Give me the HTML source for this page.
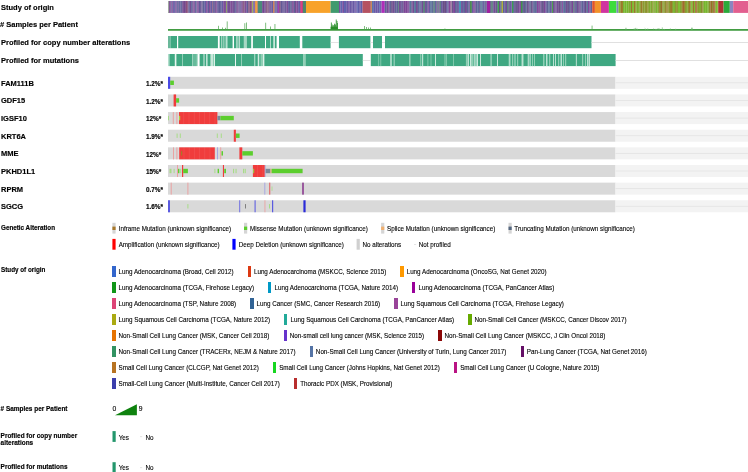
<!DOCTYPE html>
<html><head><meta charset="utf-8"><style>
html,body{margin:0;padding:0;background:#fff;width:748px;height:472px;overflow:hidden;position:relative;}
body{font-family:"Liberation Sans",sans-serif;color:#000;}
svg{position:absolute;left:0;top:0;}
.t{position:absolute;white-space:nowrap;}
.lrow{position:absolute;left:112.4px;transform:scaleY(1.0);height:10.8px;display:flex;white-space:nowrap;font-size:6.28px;line-height:10.8px;}
.li{display:inline-flex;align-items:center;margin-right:14.2px;height:10.8px;}
.li i{display:inline-block;width:3.2px;height:10.6px;margin-right:3.0px;position:relative;top:-0.5px;}
.tx{display:inline-block;font-weight:400;line-height:10.8px;transform:scaleY(1.15);transform-origin:50% 73%;position:relative;top:0.5px;-webkit-text-stroke:0.1px #000;}
.li{position:relative;top:0;}
</style></head><body><div id="wrap" style="position:absolute;left:0;top:0;width:748px;height:472px;filter:blur(0.3px)">
<svg width="748" height="472" viewBox="0 0 748 472">
<rect x="168.00" y="1.00" width="1.19" height="11.90" fill="#9e4c6e"/><rect x="169.19" y="1.00" width="1.27" height="11.90" fill="#7a3f8c"/><rect x="170.46" y="1.00" width="0.89" height="11.90" fill="#9a48a0"/><rect x="171.35" y="1.00" width="0.91" height="11.90" fill="#6878a8"/><rect x="172.26" y="1.00" width="0.87" height="11.90" fill="#9a48a0"/><rect x="173.13" y="1.00" width="1.06" height="11.90" fill="#6462b0"/><rect x="174.19" y="1.00" width="1.32" height="11.90" fill="#6462b0"/><rect x="175.51" y="1.00" width="1.09" height="11.90" fill="#9a48a0"/><rect x="176.60" y="1.00" width="1.31" height="11.90" fill="#6878a8"/><rect x="177.91" y="1.00" width="0.95" height="11.90" fill="#8a72a8"/><rect x="178.86" y="1.00" width="1.56" height="11.90" fill="#6878a8"/><rect x="180.41" y="1.00" width="1.94" height="11.90" fill="#6878a8"/><rect x="182.35" y="1.00" width="1.50" height="11.90" fill="#7a3f8c"/><rect x="183.85" y="1.00" width="1.97" height="11.90" fill="#7a3f8c"/><rect x="185.82" y="1.00" width="1.47" height="11.90" fill="#9e4c6e"/><rect x="187.29" y="1.00" width="1.15" height="11.90" fill="#9e4c6e"/><rect x="188.44" y="1.00" width="1.45" height="11.90" fill="#6878a8"/><rect x="189.89" y="1.00" width="1.17" height="11.90" fill="#7a4a95"/><rect x="191.06" y="1.00" width="1.02" height="11.90" fill="#6878a8"/><rect x="192.08" y="1.00" width="1.49" height="11.90" fill="#8a72a8"/><rect x="193.56" y="1.00" width="1.25" height="11.90" fill="#9a48a0"/><rect x="194.81" y="1.00" width="1.65" height="11.90" fill="#6878a8"/><rect x="196.46" y="1.00" width="0.87" height="11.90" fill="#8a72a8"/><rect x="197.33" y="1.00" width="1.40" height="11.90" fill="#9a48a0"/><rect x="198.73" y="1.00" width="1.31" height="11.90" fill="#5c5c9c"/><rect x="200.04" y="1.00" width="1.36" height="11.90" fill="#7060a0"/><rect x="201.40" y="1.00" width="1.23" height="11.90" fill="#8a72a8"/><rect x="202.64" y="1.00" width="1.75" height="11.90" fill="#5a6a9a"/><rect x="204.39" y="1.00" width="1.74" height="11.90" fill="#6462b0"/><rect x="206.13" y="1.00" width="1.49" height="11.90" fill="#9a48a0"/><rect x="207.61" y="1.00" width="1.39" height="11.90" fill="#5c5c9c"/><rect x="209.01" y="1.00" width="1.68" height="11.90" fill="#8e4a9c"/><rect x="210.68" y="1.00" width="1.53" height="11.90" fill="#6462b0"/><rect x="212.21" y="1.00" width="0.94" height="11.90" fill="#a46a80"/><rect x="213.16" y="1.00" width="1.00" height="11.90" fill="#5c5c9c"/><rect x="214.15" y="1.00" width="0.98" height="11.90" fill="#7060a0"/><rect x="215.14" y="1.00" width="1.31" height="11.90" fill="#7a4a95"/><rect x="216.44" y="1.00" width="0.89" height="11.90" fill="#9a48a0"/><rect x="217.34" y="1.00" width="1.49" height="11.90" fill="#5c5c9c"/><rect x="218.82" y="1.00" width="1.21" height="11.90" fill="#5c5c9c"/><rect x="220.03" y="1.00" width="1.51" height="11.90" fill="#6878a8"/><rect x="221.54" y="1.00" width="1.76" height="11.90" fill="#6462b0"/><rect x="223.30" y="1.00" width="1.81" height="11.90" fill="#8e4a9c"/><rect x="225.11" y="1.00" width="1.37" height="11.90" fill="#7a4a95"/><rect x="226.48" y="1.00" width="0.88" height="11.90" fill="#5a6a9a"/><rect x="227.36" y="1.00" width="1.64" height="11.90" fill="#7a4a95"/><rect x="229.00" y="1.00" width="1.49" height="11.90" fill="#7a4a95"/><rect x="230.49" y="1.00" width="1.79" height="11.90" fill="#8e4a9c"/><rect x="232.28" y="1.00" width="1.66" height="11.90" fill="#7a4a95"/><rect x="233.94" y="1.00" width="1.22" height="11.90" fill="#7060a0"/><rect x="235.15" y="1.00" width="1.23" height="11.90" fill="#6878a8"/><rect x="236.38" y="1.00" width="0.94" height="11.90" fill="#7a3f8c"/><rect x="237.32" y="1.00" width="1.06" height="11.90" fill="#8e4a9c"/><rect x="238.38" y="1.00" width="0.96" height="11.90" fill="#8a72a8"/><rect x="239.34" y="1.00" width="1.28" height="11.90" fill="#7060a0"/><rect x="240.62" y="1.00" width="0.90" height="11.90" fill="#7060a0"/><rect x="241.51" y="1.00" width="1.28" height="11.90" fill="#8e4a9c"/><rect x="242.79" y="1.00" width="1.86" height="11.90" fill="#a46a80"/><rect x="244.65" y="1.00" width="1.84" height="11.90" fill="#8e4a9c"/><rect x="246.49" y="1.00" width="1.65" height="11.90" fill="#5c5c9c"/><rect x="248.14" y="1.00" width="1.62" height="11.90" fill="#a46a80"/><rect x="249.76" y="1.00" width="1.95" height="11.90" fill="#9e4c6e"/><rect x="251.71" y="1.00" width="0.90" height="11.90" fill="#9e4c6e"/><rect x="252.61" y="1.00" width="1.08" height="11.90" fill="#8a72a8"/><rect x="253.69" y="1.00" width="0.81" height="11.90" fill="#6878a8"/><rect x="254.50" y="1.00" width="1.02" height="11.90" fill="#8e4a9c"/><rect x="255.52" y="1.00" width="0.80" height="11.90" fill="#a46a80"/><rect x="256.32" y="1.00" width="1.44" height="11.90" fill="#6878a8"/><rect x="257.76" y="1.00" width="1.48" height="11.90" fill="#9e4c6e"/><rect x="259.24" y="1.00" width="1.63" height="11.90" fill="#9a48a0"/><rect x="260.87" y="1.00" width="1.94" height="11.90" fill="#7a4a95"/><rect x="262.81" y="1.00" width="1.61" height="11.90" fill="#7a3f8c"/><rect x="264.42" y="1.00" width="1.35" height="11.90" fill="#7a4a95"/><rect x="265.77" y="1.00" width="1.76" height="11.90" fill="#a46a80"/><rect x="267.53" y="1.00" width="1.28" height="11.90" fill="#a46a80"/><rect x="268.81" y="1.00" width="0.92" height="11.90" fill="#7a4a95"/><rect x="269.73" y="1.00" width="1.28" height="11.90" fill="#8a72a8"/><rect x="271.01" y="1.00" width="0.88" height="11.90" fill="#8a72a8"/><rect x="271.89" y="1.00" width="1.33" height="11.90" fill="#6462b0"/><rect x="273.22" y="1.00" width="1.21" height="11.90" fill="#7a3f8c"/><rect x="274.43" y="1.00" width="0.92" height="11.90" fill="#6878a8"/><rect x="275.35" y="1.00" width="0.98" height="11.90" fill="#6462b0"/><rect x="276.33" y="1.00" width="1.94" height="11.90" fill="#6878a8"/><rect x="278.27" y="1.00" width="0.83" height="11.90" fill="#8a72a8"/><rect x="279.10" y="1.00" width="1.54" height="11.90" fill="#9e4c6e"/><rect x="280.64" y="1.00" width="1.56" height="11.90" fill="#5c5c9c"/><rect x="282.20" y="1.00" width="1.52" height="11.90" fill="#7060a0"/><rect x="283.72" y="1.00" width="0.95" height="11.90" fill="#7060a0"/><rect x="284.67" y="1.00" width="1.99" height="11.90" fill="#7060a0"/><rect x="286.66" y="1.00" width="1.38" height="11.90" fill="#8e4a9c"/><rect x="288.04" y="1.00" width="0.90" height="11.90" fill="#6462b0"/><rect x="288.94" y="1.00" width="1.70" height="11.90" fill="#5a6a9a"/><rect x="290.64" y="1.00" width="1.12" height="11.90" fill="#5a6a9a"/><rect x="291.76" y="1.00" width="0.99" height="11.90" fill="#7a3f8c"/><rect x="292.75" y="1.00" width="1.05" height="11.90" fill="#9a48a0"/><rect x="293.80" y="1.00" width="1.23" height="11.90" fill="#5a6a9a"/><rect x="295.04" y="1.00" width="1.45" height="11.90" fill="#7a3f8c"/><rect x="296.49" y="1.00" width="1.71" height="11.90" fill="#8e4a9c"/><rect x="298.20" y="1.00" width="1.97" height="11.90" fill="#6462b0"/><rect x="300.17" y="1.00" width="1.64" height="11.90" fill="#8e4a9c"/><rect x="301.81" y="1.00" width="1.42" height="11.90" fill="#9e4c6e"/><rect x="303.23" y="1.00" width="1.23" height="11.90" fill="#8a72a8"/><rect x="304.46" y="1.00" width="1.44" height="11.90" fill="#9a48a0"/><rect x="305.89" y="1.00" width="0.11" height="11.90" fill="#8a72a8"/><rect x="306.00" y="1.00" width="24.60" height="11.90" fill="#f8a22a"/><rect x="330.60" y="1.00" width="8.40" height="11.90" fill="#3f9a6e"/><rect x="339.00" y="1.00" width="1.54" height="11.90" fill="#7b4aa0"/><rect x="340.54" y="1.00" width="1.77" height="11.90" fill="#5a6ab8"/><rect x="342.30" y="1.00" width="1.69" height="11.90" fill="#7b4aa0"/><rect x="343.99" y="1.00" width="1.04" height="11.90" fill="#5a6ab8"/><rect x="345.03" y="1.00" width="1.23" height="11.90" fill="#5b5fb0"/><rect x="346.26" y="1.00" width="1.99" height="11.90" fill="#6a58a8"/><rect x="348.25" y="1.00" width="1.37" height="11.90" fill="#7b4aa0"/><rect x="349.61" y="1.00" width="1.63" height="11.90" fill="#6a58a8"/><rect x="351.24" y="1.00" width="1.34" height="11.90" fill="#6a58a8"/><rect x="352.58" y="1.00" width="1.95" height="11.90" fill="#6a58a8"/><rect x="354.53" y="1.00" width="0.90" height="11.90" fill="#5b5fb0"/><rect x="355.42" y="1.00" width="1.07" height="11.90" fill="#7b4aa0"/><rect x="356.49" y="1.00" width="1.21" height="11.90" fill="#5a6ab8"/><rect x="357.70" y="1.00" width="1.55" height="11.90" fill="#5b5fb0"/><rect x="359.25" y="1.00" width="1.38" height="11.90" fill="#6a58a8"/><rect x="360.62" y="1.00" width="1.76" height="11.90" fill="#5b5fb0"/><rect x="362.38" y="1.00" width="0.12" height="11.90" fill="#5b5fb0"/><rect x="362.50" y="1.00" width="8.30" height="11.90" fill="#d6504a"/><rect x="370.80" y="1.00" width="1.20" height="11.90" fill="#e8a040"/><rect x="372.00" y="1.00" width="1.89" height="11.90" fill="#5a7ab8"/><rect x="373.89" y="1.00" width="1.70" height="11.90" fill="#6a58a8"/><rect x="375.59" y="1.00" width="1.87" height="11.90" fill="#6a58a8"/><rect x="377.46" y="1.00" width="1.75" height="11.90" fill="#6a58a8"/><rect x="379.21" y="1.00" width="0.90" height="11.90" fill="#5a7ab8"/><rect x="380.11" y="1.00" width="1.28" height="11.90" fill="#6a58a8"/><rect x="381.38" y="1.00" width="0.12" height="11.90" fill="#5b6fb0"/><rect x="381.50" y="1.00" width="3.30" height="11.90" fill="#b02cb8"/><rect x="384.80" y="1.00" width="1.67" height="11.90" fill="#5a6a9a"/><rect x="386.47" y="1.00" width="1.99" height="11.90" fill="#7a4a95"/><rect x="388.46" y="1.00" width="0.98" height="11.90" fill="#9a3aa0"/><rect x="389.44" y="1.00" width="1.77" height="11.90" fill="#5a6a9a"/><rect x="391.21" y="1.00" width="1.53" height="11.90" fill="#6a4a80"/><rect x="392.74" y="1.00" width="1.98" height="11.90" fill="#7a4a95"/><rect x="394.72" y="1.00" width="1.92" height="11.90" fill="#5a6a9a"/><rect x="396.65" y="1.00" width="1.46" height="11.90" fill="#5a6a9a"/><rect x="398.10" y="1.00" width="0.83" height="11.90" fill="#4a9a6a"/><rect x="398.93" y="1.00" width="1.97" height="11.90" fill="#7a4a95"/><rect x="400.90" y="1.00" width="0.92" height="11.90" fill="#6a60a8"/><rect x="401.82" y="1.00" width="1.92" height="11.90" fill="#7a6aa0"/><rect x="403.74" y="1.00" width="1.98" height="11.90" fill="#8a3a9a"/><rect x="405.72" y="1.00" width="1.79" height="11.90" fill="#8a3a9a"/><rect x="407.51" y="1.00" width="0.83" height="11.90" fill="#8a3a9a"/><rect x="408.35" y="1.00" width="1.15" height="11.90" fill="#8a3a9a"/><rect x="409.50" y="1.00" width="1.72" height="11.90" fill="#4a8aa0"/><rect x="411.22" y="1.00" width="1.11" height="11.90" fill="#7a6aa0"/><rect x="412.33" y="1.00" width="1.80" height="11.90" fill="#7a4a95"/><rect x="414.13" y="1.00" width="1.89" height="11.90" fill="#4a8aa0"/><rect x="416.02" y="1.00" width="1.88" height="11.90" fill="#7a4a95"/><rect x="417.90" y="1.00" width="1.50" height="11.90" fill="#5a7aa0"/><rect x="419.40" y="1.00" width="1.30" height="11.90" fill="#5a7aa0"/><rect x="420.70" y="1.00" width="0.96" height="11.90" fill="#5a6a9a"/><rect x="421.66" y="1.00" width="1.43" height="11.90" fill="#7a4a95"/><rect x="423.09" y="1.00" width="1.85" height="11.90" fill="#4a9a6a"/><rect x="424.93" y="1.00" width="1.02" height="11.90" fill="#7a4a95"/><rect x="425.95" y="1.00" width="1.73" height="11.90" fill="#5a6a9a"/><rect x="427.69" y="1.00" width="1.01" height="11.90" fill="#9a3aa0"/><rect x="428.69" y="1.00" width="1.54" height="11.90" fill="#6a60a8"/><rect x="430.24" y="1.00" width="1.47" height="11.90" fill="#4a8aa0"/><rect x="431.70" y="1.00" width="1.62" height="11.90" fill="#5a7aa0"/><rect x="433.32" y="1.00" width="1.47" height="11.90" fill="#4a9a6a"/><rect x="434.79" y="1.00" width="1.73" height="11.90" fill="#5a7aa0"/><rect x="436.52" y="1.00" width="0.87" height="11.90" fill="#8a3a9a"/><rect x="437.39" y="1.00" width="1.13" height="11.90" fill="#4a9a6a"/><rect x="438.52" y="1.00" width="0.92" height="11.90" fill="#9a3aa0"/><rect x="439.44" y="1.00" width="1.47" height="11.90" fill="#4a9a6a"/><rect x="440.91" y="1.00" width="1.87" height="11.90" fill="#6a60a8"/><rect x="442.78" y="1.00" width="1.33" height="11.90" fill="#6a4a80"/><rect x="444.12" y="1.00" width="1.97" height="11.90" fill="#6a4a80"/><rect x="446.08" y="1.00" width="1.41" height="11.90" fill="#6a60a8"/><rect x="447.50" y="1.00" width="1.13" height="11.90" fill="#5a7aa0"/><rect x="448.63" y="1.00" width="1.44" height="11.90" fill="#9a3aa0"/><rect x="450.07" y="1.00" width="1.41" height="11.90" fill="#8a3a9a"/><rect x="451.48" y="1.00" width="1.64" height="11.90" fill="#6a5a8a"/><rect x="453.12" y="1.00" width="1.91" height="11.90" fill="#8a3a9a"/><rect x="455.03" y="1.00" width="1.81" height="11.90" fill="#5a6a9a"/><rect x="456.84" y="1.00" width="1.30" height="11.90" fill="#7a6aa0"/><rect x="458.14" y="1.00" width="1.33" height="11.90" fill="#6a60a8"/><rect x="459.47" y="1.00" width="1.61" height="11.90" fill="#7a6aa0"/><rect x="461.07" y="1.00" width="0.89" height="11.90" fill="#7a4a95"/><rect x="461.96" y="1.00" width="1.16" height="11.90" fill="#6a60a8"/><rect x="463.12" y="1.00" width="1.88" height="11.90" fill="#5a6a9a"/><rect x="465.00" y="1.00" width="1.93" height="11.90" fill="#7a4a95"/><rect x="466.93" y="1.00" width="1.59" height="11.90" fill="#5a6a9a"/><rect x="468.52" y="1.00" width="1.10" height="11.90" fill="#5a6a9a"/><rect x="469.62" y="1.00" width="1.96" height="11.90" fill="#8a3a9a"/><rect x="471.58" y="1.00" width="1.70" height="11.90" fill="#6a60a8"/><rect x="473.28" y="1.00" width="1.28" height="11.90" fill="#9a3aa0"/><rect x="474.56" y="1.00" width="1.00" height="11.90" fill="#7a4a95"/><rect x="475.55" y="1.00" width="1.80" height="11.90" fill="#5a6a9a"/><rect x="477.35" y="1.00" width="1.65" height="11.90" fill="#5a7aa0"/><rect x="479.00" y="1.00" width="1.28" height="11.90" fill="#7a6aa0"/><rect x="480.28" y="1.00" width="1.03" height="11.90" fill="#4a8aa0"/><rect x="481.32" y="1.00" width="0.91" height="11.90" fill="#4a8aa0"/><rect x="482.23" y="1.00" width="0.82" height="11.90" fill="#5a7aa0"/><rect x="483.05" y="1.00" width="1.35" height="11.90" fill="#6a60a8"/><rect x="484.40" y="1.00" width="0.82" height="11.90" fill="#4a8aa0"/><rect x="485.22" y="1.00" width="1.42" height="11.90" fill="#6a5a8a"/><rect x="486.65" y="1.00" width="1.41" height="11.90" fill="#6a60a8"/><rect x="488.06" y="1.00" width="0.94" height="11.90" fill="#4a9a6a"/><rect x="489.00" y="1.00" width="1.07" height="11.90" fill="#6a60a8"/><rect x="490.07" y="1.00" width="0.90" height="11.90" fill="#6a5a8a"/><rect x="490.97" y="1.00" width="0.85" height="11.90" fill="#4a9a6a"/><rect x="491.82" y="1.00" width="1.02" height="11.90" fill="#4a9a6a"/><rect x="492.84" y="1.00" width="0.96" height="11.90" fill="#7a6aa0"/><rect x="493.79" y="1.00" width="1.82" height="11.90" fill="#7a4a95"/><rect x="495.61" y="1.00" width="1.78" height="11.90" fill="#6a5a8a"/><rect x="497.39" y="1.00" width="1.29" height="11.90" fill="#5a7aa0"/><rect x="498.68" y="1.00" width="1.90" height="11.90" fill="#6a4a80"/><rect x="500.58" y="1.00" width="1.39" height="11.90" fill="#4a8aa0"/><rect x="501.98" y="1.00" width="0.91" height="11.90" fill="#7a4a95"/><rect x="502.89" y="1.00" width="1.76" height="11.90" fill="#5a6a9a"/><rect x="504.64" y="1.00" width="1.31" height="11.90" fill="#6a60a8"/><rect x="505.95" y="1.00" width="1.12" height="11.90" fill="#7a4a95"/><rect x="507.08" y="1.00" width="1.56" height="11.90" fill="#4a9a6a"/><rect x="508.64" y="1.00" width="1.11" height="11.90" fill="#6a4a80"/><rect x="509.75" y="1.00" width="1.83" height="11.90" fill="#6a60a8"/><rect x="511.58" y="1.00" width="1.12" height="11.90" fill="#6a60a8"/><rect x="512.70" y="1.00" width="1.34" height="11.90" fill="#4a8aa0"/><rect x="514.04" y="1.00" width="1.99" height="11.90" fill="#7a6aa0"/><rect x="516.03" y="1.00" width="1.91" height="11.90" fill="#6a5a8a"/><rect x="517.95" y="1.00" width="1.55" height="11.90" fill="#7a4a95"/><rect x="519.49" y="1.00" width="1.43" height="11.90" fill="#8a3a9a"/><rect x="520.92" y="1.00" width="1.93" height="11.90" fill="#5a6a9a"/><rect x="522.85" y="1.00" width="1.11" height="11.90" fill="#5a6a9a"/><rect x="523.96" y="1.00" width="1.04" height="11.90" fill="#6a5a8a"/><rect x="525.01" y="1.00" width="1.55" height="11.90" fill="#5a7aa0"/><rect x="526.56" y="1.00" width="1.71" height="11.90" fill="#6a5a8a"/><rect x="528.27" y="1.00" width="1.33" height="11.90" fill="#7a4a95"/><rect x="529.61" y="1.00" width="1.01" height="11.90" fill="#4a8aa0"/><rect x="530.62" y="1.00" width="1.76" height="11.90" fill="#6a5a8a"/><rect x="532.39" y="1.00" width="0.84" height="11.90" fill="#7a4a95"/><rect x="533.23" y="1.00" width="1.68" height="11.90" fill="#5a7aa0"/><rect x="534.91" y="1.00" width="1.97" height="11.90" fill="#5a7aa0"/><rect x="536.88" y="1.00" width="1.37" height="11.90" fill="#9a3aa0"/><rect x="538.25" y="1.00" width="0.93" height="11.90" fill="#7a4a95"/><rect x="539.18" y="1.00" width="1.32" height="11.90" fill="#9a3aa0"/><rect x="540.50" y="1.00" width="1.46" height="11.90" fill="#7a6aa0"/><rect x="541.95" y="1.00" width="1.96" height="11.90" fill="#6a5a8a"/><rect x="543.92" y="1.00" width="1.63" height="11.90" fill="#8a3a9a"/><rect x="545.54" y="1.00" width="1.21" height="11.90" fill="#6a60a8"/><rect x="546.75" y="1.00" width="1.67" height="11.90" fill="#5a6a9a"/><rect x="548.43" y="1.00" width="1.29" height="11.90" fill="#4a8aa0"/><rect x="549.71" y="1.00" width="1.98" height="11.90" fill="#5a6a9a"/><rect x="551.69" y="1.00" width="0.82" height="11.90" fill="#7a4a95"/><rect x="552.51" y="1.00" width="1.69" height="11.90" fill="#6a5a8a"/><rect x="554.20" y="1.00" width="1.32" height="11.90" fill="#7a4a95"/><rect x="555.52" y="1.00" width="0.90" height="11.90" fill="#7a6aa0"/><rect x="556.42" y="1.00" width="1.84" height="11.90" fill="#7a4a95"/><rect x="558.26" y="1.00" width="1.97" height="11.90" fill="#6a4a80"/><rect x="560.23" y="1.00" width="1.09" height="11.90" fill="#6a5a8a"/><rect x="561.32" y="1.00" width="0.85" height="11.90" fill="#5a6a9a"/><rect x="562.17" y="1.00" width="0.99" height="11.90" fill="#9a3aa0"/><rect x="563.16" y="1.00" width="0.80" height="11.90" fill="#4a8aa0"/><rect x="563.97" y="1.00" width="1.95" height="11.90" fill="#5a7aa0"/><rect x="565.92" y="1.00" width="1.19" height="11.90" fill="#7a4a95"/><rect x="567.11" y="1.00" width="1.96" height="11.90" fill="#6a5a8a"/><rect x="569.07" y="1.00" width="1.06" height="11.90" fill="#5a6a9a"/><rect x="570.13" y="1.00" width="0.80" height="11.90" fill="#7a6aa0"/><rect x="570.93" y="1.00" width="0.90" height="11.90" fill="#6a5a8a"/><rect x="571.83" y="1.00" width="1.40" height="11.90" fill="#8a3a9a"/><rect x="573.23" y="1.00" width="1.10" height="11.90" fill="#4a9a6a"/><rect x="574.33" y="1.00" width="0.81" height="11.90" fill="#6a5a8a"/><rect x="575.14" y="1.00" width="1.78" height="11.90" fill="#5a6a9a"/><rect x="576.92" y="1.00" width="1.28" height="11.90" fill="#7a4a95"/><rect x="578.20" y="1.00" width="1.27" height="11.90" fill="#6a5a8a"/><rect x="579.47" y="1.00" width="1.17" height="11.90" fill="#8a3a9a"/><rect x="580.64" y="1.00" width="0.90" height="11.90" fill="#5a7aa0"/><rect x="581.54" y="1.00" width="1.82" height="11.90" fill="#5a6a9a"/><rect x="583.36" y="1.00" width="1.59" height="11.90" fill="#6a60a8"/><rect x="584.95" y="1.00" width="1.74" height="11.90" fill="#6a4a80"/><rect x="586.69" y="1.00" width="1.27" height="11.90" fill="#4a8aa0"/><rect x="587.96" y="1.00" width="1.66" height="11.90" fill="#9a3aa0"/><rect x="589.62" y="1.00" width="0.98" height="11.90" fill="#6a60a8"/><rect x="590.60" y="1.00" width="1.54" height="11.90" fill="#5a6a9a"/><rect x="592.14" y="1.00" width="0.06" height="11.90" fill="#6a60a8"/><rect x="168.00" y="1.00" width="138.00" height="11.90" fill="#6a5690" fill-opacity="0.38"/><rect x="339.00" y="1.00" width="42.50" height="11.90" fill="#6a5a9a" fill-opacity="0.3"/><rect x="384.80" y="1.00" width="207.40" height="11.90" fill="#6a5690" fill-opacity="0.38"/><rect x="618.50" y="1.00" width="99.70" height="11.90" fill="#849838" fill-opacity="0.3"/><rect x="168.00" y="1.00" width="1.00" height="11.90" fill="#a0a8a0"/><rect x="226.20" y="1.00" width="0.70" height="11.90" fill="#98b058"/><rect x="252.00" y="1.00" width="0.80" height="11.90" fill="#a8c050"/><rect x="255.20" y="1.00" width="2.30" height="11.90" fill="#f0a040"/><rect x="258.00" y="1.00" width="4.00" height="11.90" fill="#4a8a7a"/><rect x="273.20" y="1.00" width="1.20" height="11.90" fill="#e09050"/><rect x="277.50" y="1.00" width="1.50" height="11.90" fill="#a040b0"/><rect x="300.50" y="1.00" width="2.00" height="11.90" fill="#e04080"/><rect x="303.00" y="1.00" width="2.80" height="11.90" fill="#4a8a6a"/><rect x="450.50" y="1.00" width="1.00" height="11.90" fill="#c0a0b0"/><rect x="459.20" y="1.00" width="1.60" height="11.90" fill="#40a0b8"/><rect x="470.20" y="1.00" width="1.40" height="11.90" fill="#40a040"/><rect x="487.00" y="1.00" width="3.00" height="11.90" fill="#a020a0"/><rect x="497.60" y="1.00" width="1.40" height="11.90" fill="#40a050"/><rect x="501.50" y="1.00" width="1.50" height="11.90" fill="#b0b040"/><rect x="512.00" y="1.00" width="1.20" height="11.90" fill="#409a50"/><rect x="521.00" y="1.00" width="1.50" height="11.90" fill="#40904a"/><rect x="552.00" y="1.00" width="1.00" height="11.90" fill="#50a050"/><rect x="592.20" y="1.00" width="2.70" height="11.90" fill="#e05428"/><rect x="594.90" y="1.00" width="6.00" height="11.90" fill="#f0922b"/><rect x="600.90" y="1.00" width="8.00" height="11.90" fill="#d034a0"/><rect x="608.90" y="1.00" width="7.60" height="11.90" fill="#3cdc3c"/><rect x="616.50" y="1.00" width="2.00" height="11.90" fill="#7a8ab8"/><rect x="618.50" y="1.00" width="1.87" height="11.90" fill="#7cbc30"/><rect x="620.37" y="1.00" width="1.68" height="11.90" fill="#9a7a2a"/><rect x="622.05" y="1.00" width="0.97" height="11.90" fill="#9a7a2a"/><rect x="623.02" y="1.00" width="1.70" height="11.90" fill="#74b82e"/><rect x="624.72" y="1.00" width="1.80" height="11.90" fill="#78b430"/><rect x="626.52" y="1.00" width="1.79" height="11.90" fill="#74b82e"/><rect x="628.32" y="1.00" width="1.76" height="11.90" fill="#80a830"/><rect x="630.07" y="1.00" width="0.90" height="11.90" fill="#78b430"/><rect x="630.97" y="1.00" width="0.96" height="11.90" fill="#a0602a"/><rect x="631.93" y="1.00" width="1.95" height="11.90" fill="#7cbc30"/><rect x="633.89" y="1.00" width="1.80" height="11.90" fill="#9a7a2a"/><rect x="635.69" y="1.00" width="0.86" height="11.90" fill="#78b430"/><rect x="636.55" y="1.00" width="1.55" height="11.90" fill="#80a830"/><rect x="638.10" y="1.00" width="1.39" height="11.90" fill="#78b430"/><rect x="639.49" y="1.00" width="1.35" height="11.90" fill="#8a9a30"/><rect x="640.84" y="1.00" width="1.70" height="11.90" fill="#9a7a2a"/><rect x="642.53" y="1.00" width="1.88" height="11.90" fill="#8a9a30"/><rect x="644.41" y="1.00" width="1.59" height="11.90" fill="#8a9a30"/><rect x="646.00" y="1.00" width="1.69" height="11.90" fill="#909030"/><rect x="647.70" y="1.00" width="1.10" height="11.90" fill="#8a9a30"/><rect x="648.80" y="1.00" width="1.82" height="11.90" fill="#80a830"/><rect x="650.62" y="1.00" width="1.68" height="11.90" fill="#80a830"/><rect x="652.29" y="1.00" width="1.08" height="11.90" fill="#909030"/><rect x="653.37" y="1.00" width="1.39" height="11.90" fill="#7cbc30"/><rect x="654.76" y="1.00" width="0.89" height="11.90" fill="#8a8a30"/><rect x="655.65" y="1.00" width="1.72" height="11.90" fill="#74b82e"/><rect x="657.37" y="1.00" width="1.56" height="11.90" fill="#80a830"/><rect x="658.93" y="1.00" width="0.89" height="11.90" fill="#9a6a2a"/><rect x="659.83" y="1.00" width="1.20" height="11.90" fill="#8a8a30"/><rect x="661.02" y="1.00" width="1.55" height="11.90" fill="#9a6a2a"/><rect x="662.57" y="1.00" width="0.81" height="11.90" fill="#78b430"/><rect x="663.38" y="1.00" width="1.38" height="11.90" fill="#8a9a30"/><rect x="664.77" y="1.00" width="1.63" height="11.90" fill="#909030"/><rect x="666.40" y="1.00" width="1.15" height="11.90" fill="#9a7a2a"/><rect x="667.55" y="1.00" width="1.14" height="11.90" fill="#909030"/><rect x="668.69" y="1.00" width="1.36" height="11.90" fill="#8a9a30"/><rect x="670.05" y="1.00" width="1.99" height="11.90" fill="#9a7a2a"/><rect x="672.04" y="1.00" width="1.04" height="11.90" fill="#8a9a30"/><rect x="673.08" y="1.00" width="1.92" height="11.90" fill="#78b430"/><rect x="675.00" y="1.00" width="1.15" height="11.90" fill="#8a9a30"/><rect x="676.15" y="1.00" width="1.78" height="11.90" fill="#909030"/><rect x="677.94" y="1.00" width="1.99" height="11.90" fill="#7cbc30"/><rect x="679.93" y="1.00" width="1.05" height="11.90" fill="#80a830"/><rect x="680.98" y="1.00" width="0.89" height="11.90" fill="#8a9a30"/><rect x="681.87" y="1.00" width="0.97" height="11.90" fill="#9a7a2a"/><rect x="682.84" y="1.00" width="1.11" height="11.90" fill="#a0602a"/><rect x="683.95" y="1.00" width="0.96" height="11.90" fill="#9a7a2a"/><rect x="684.91" y="1.00" width="1.14" height="11.90" fill="#8a9a30"/><rect x="686.05" y="1.00" width="1.64" height="11.90" fill="#80a830"/><rect x="687.69" y="1.00" width="1.40" height="11.90" fill="#909030"/><rect x="689.09" y="1.00" width="1.27" height="11.90" fill="#9a6a2a"/><rect x="690.36" y="1.00" width="0.80" height="11.90" fill="#909030"/><rect x="691.17" y="1.00" width="1.62" height="11.90" fill="#7cbc30"/><rect x="692.78" y="1.00" width="1.16" height="11.90" fill="#9a6a2a"/><rect x="693.95" y="1.00" width="1.30" height="11.90" fill="#7cbc30"/><rect x="695.25" y="1.00" width="1.18" height="11.90" fill="#a0602a"/><rect x="696.43" y="1.00" width="0.80" height="11.90" fill="#a0602a"/><rect x="697.23" y="1.00" width="1.81" height="11.90" fill="#8a9a30"/><rect x="699.03" y="1.00" width="1.93" height="11.90" fill="#80a830"/><rect x="700.96" y="1.00" width="1.66" height="11.90" fill="#8a8a30"/><rect x="702.62" y="1.00" width="1.10" height="11.90" fill="#8a9a30"/><rect x="703.72" y="1.00" width="1.27" height="11.90" fill="#74b82e"/><rect x="704.99" y="1.00" width="0.89" height="11.90" fill="#7cbc30"/><rect x="705.89" y="1.00" width="1.71" height="11.90" fill="#78b430"/><rect x="707.59" y="1.00" width="1.14" height="11.90" fill="#78b430"/><rect x="708.73" y="1.00" width="1.80" height="11.90" fill="#8a8a30"/><rect x="710.53" y="1.00" width="1.56" height="11.90" fill="#9a6a2a"/><rect x="712.09" y="1.00" width="1.10" height="11.90" fill="#8a8a30"/><rect x="713.19" y="1.00" width="1.32" height="11.90" fill="#a0602a"/><rect x="714.52" y="1.00" width="1.03" height="11.90" fill="#a0602a"/><rect x="715.54" y="1.00" width="1.74" height="11.90" fill="#7cbc30"/><rect x="717.29" y="1.00" width="0.91" height="11.90" fill="#7cbc30"/><rect x="718.20" y="1.00" width="5.40" height="11.90" fill="#ac3434"/><rect x="723.60" y="1.00" width="6.20" height="11.90" fill="#2aaa3a"/><rect x="729.80" y="1.00" width="3.40" height="11.90" fill="#8a86c0"/><rect x="733.20" y="1.00" width="14.80" height="11.90" fill="#e25f8f"/><rect x="168.00" y="29.10" width="580.00" height="1.60" fill="#2e922e"/><rect x="218.20" y="25.80" width="0.70" height="3.80" fill="#4aa24a"/><rect x="222.00" y="27.50" width="0.70" height="2.10" fill="#4aa24a"/><rect x="225.00" y="27.80" width="0.70" height="1.80" fill="#4aa24a"/><rect x="226.80" y="21.40" width="0.70" height="8.20" fill="#4aa24a"/><rect x="244.50" y="23.20" width="0.70" height="6.40" fill="#4aa24a"/><rect x="246.00" y="22.50" width="0.70" height="7.10" fill="#4aa24a"/><rect x="265.40" y="22.70" width="0.70" height="6.90" fill="#4aa24a"/><rect x="270.00" y="26.50" width="0.70" height="3.10" fill="#4aa24a"/><rect x="274.60" y="24.00" width="0.70" height="5.60" fill="#4aa24a"/><rect x="364.00" y="26.00" width="0.70" height="3.60" fill="#4aa24a"/><rect x="366.00" y="27.00" width="0.70" height="2.60" fill="#4aa24a"/><rect x="368.00" y="27.50" width="0.70" height="2.10" fill="#4aa24a"/><rect x="370.00" y="27.50" width="0.70" height="2.10" fill="#4aa24a"/><rect x="444.60" y="28.50" width="0.70" height="1.10" fill="#4aa24a"/><rect x="591.70" y="25.60" width="0.70" height="4.00" fill="#4aa24a"/><rect x="330.60" y="26.70" width="7.20" height="2.60" fill="#2a8f2a"/><rect x="330.90" y="22.50" width="0.80" height="6.80" fill="#2a8f2a"/><rect x="331.70" y="24.50" width="0.80" height="4.80" fill="#2a8f2a"/><rect x="332.60" y="25.50" width="0.80" height="3.80" fill="#2a8f2a"/><rect x="333.50" y="25.00" width="0.80" height="4.30" fill="#2a8f2a"/><rect x="334.20" y="23.70" width="0.80" height="5.60" fill="#2a8f2a"/><rect x="335.00" y="24.50" width="0.80" height="4.80" fill="#2a8f2a"/><rect x="335.80" y="19.50" width="0.80" height="9.80" fill="#2a8f2a"/><rect x="336.60" y="21.00" width="0.80" height="8.30" fill="#2a8f2a"/><rect x="337.20" y="23.00" width="0.80" height="6.30" fill="#2a8f2a"/><rect x="625.45" y="27.76" width="1.00" height="1.74" fill="#7fbf7f"/><rect x="629.93" y="28.92" width="-0.10" height="0.58" fill="#7fbf7f"/><rect x="633.74" y="28.49" width="0.94" height="1.01" fill="#7fbf7f"/><rect x="635.30" y="27.88" width="0.96" height="1.62" fill="#7fbf7f"/><rect x="637.16" y="28.72" width="0.75" height="0.78" fill="#7fbf7f"/><rect x="644.00" y="27.46" width="0.15" height="2.04" fill="#7fbf7f"/><rect x="645.09" y="28.67" width="0.95" height="0.83" fill="#7fbf7f"/><rect x="647.26" y="28.59" width="1.01" height="0.91" fill="#7fbf7f"/><rect x="653.52" y="28.30" width="0.55" height="1.20" fill="#7fbf7f"/><rect x="655.28" y="28.89" width="1.39" height="0.61" fill="#7fbf7f"/><rect x="657.63" y="28.14" width="0.93" height="1.36" fill="#7fbf7f"/><rect x="659.25" y="28.54" width="0.85" height="0.96" fill="#7fbf7f"/><rect x="661.85" y="27.38" width="0.72" height="2.12" fill="#7fbf7f"/><rect x="663.71" y="28.95" width="0.89" height="0.55" fill="#7fbf7f"/><rect x="669.93" y="28.33" width="0.60" height="1.17" fill="#7fbf7f"/><rect x="675.15" y="28.81" width="1.07" height="0.69" fill="#7fbf7f"/><rect x="691.23" y="27.67" width="1.39" height="1.83" fill="#7fbf7f"/><rect x="168.00" y="36.00" width="2.50" height="12.20" fill="#6ab89a"/><rect x="170.50" y="36.00" width="6.50" height="12.20" fill="#3fa882"/><rect x="178.20" y="36.00" width="39.70" height="12.20" fill="#3fa882"/><rect x="219.70" y="36.00" width="1.50" height="12.20" fill="#3fa882"/><rect x="221.20" y="36.00" width="1.00" height="12.20" fill="#8fcfb5"/><rect x="222.20" y="36.00" width="1.30" height="12.20" fill="#3fa882"/><rect x="223.50" y="36.00" width="0.80" height="12.20" fill="#7cc4a8"/><rect x="224.30" y="36.00" width="1.50" height="12.20" fill="#3fa882"/><rect x="225.80" y="36.00" width="1.60" height="12.20" fill="#b8e3d3"/><rect x="227.40" y="36.00" width="5.20" height="12.20" fill="#3fa882"/><rect x="234.00" y="36.00" width="2.30" height="12.20" fill="#3fa882"/><rect x="236.30" y="36.00" width="2.10" height="12.20" fill="#8fcfb5"/><rect x="238.40" y="36.00" width="1.00" height="12.20" fill="#3fa882"/><rect x="240.00" y="36.00" width="3.90" height="12.20" fill="#3fa882"/><rect x="243.90" y="36.00" width="2.90" height="12.20" fill="#a6d8c4"/><rect x="246.80" y="36.00" width="4.40" height="12.20" fill="#3fa882"/><rect x="252.90" y="36.00" width="12.10" height="12.20" fill="#3fa882"/><rect x="266.00" y="36.00" width="4.00" height="12.20" fill="#3fa882"/><rect x="270.30" y="36.00" width="0.70" height="12.20" fill="#8fcfb5"/><rect x="271.00" y="36.00" width="2.00" height="12.20" fill="#3fa882"/><rect x="273.20" y="36.00" width="1.30" height="12.20" fill="#8fcfb5"/><rect x="275.00" y="36.00" width="1.60" height="12.20" fill="#3fa882"/><rect x="279.00" y="36.00" width="20.80" height="12.20" fill="#3fa882"/><rect x="302.30" y="36.00" width="28.30" height="12.20" fill="#3fa882"/><rect x="338.90" y="36.00" width="31.50" height="12.20" fill="#3fa882"/><rect x="373.00" y="36.00" width="9.00" height="12.20" fill="#3fa882"/><rect x="385.00" y="36.00" width="206.50" height="12.20" fill="#3fa882"/><rect x="330.60" y="42.00" width="8.30" height="0.80" fill="#dddddd"/><rect x="370.40" y="42.00" width="2.60" height="0.80" fill="#dddddd"/><rect x="382.00" y="42.00" width="3.00" height="0.80" fill="#dddddd"/><rect x="591.50" y="42.00" width="156.50" height="0.90" fill="#dddddd"/><rect x="168.30" y="54.00" width="1.20" height="12.10" fill="#8fcfb5"/><rect x="169.50" y="54.00" width="5.30" height="12.10" fill="#3fa882"/><rect x="175.80" y="54.00" width="0.70" height="12.10" fill="#8fcfb5"/><rect x="176.50" y="54.00" width="5.50" height="12.10" fill="#3fa882"/><rect x="182.00" y="54.00" width="0.80" height="12.10" fill="#8fcfb5"/><rect x="182.80" y="54.00" width="9.30" height="12.10" fill="#3fa882"/><rect x="192.10" y="54.00" width="5.60" height="12.10" fill="#8fcfb5"/><rect x="193.50" y="54.00" width="1.00" height="12.10" fill="#3fa882"/><rect x="195.50" y="54.00" width="0.80" height="12.10" fill="#3fa882"/><rect x="199.60" y="54.00" width="4.00" height="12.10" fill="#3fa882"/><rect x="204.40" y="54.00" width="1.80" height="12.10" fill="#3fa882"/><rect x="206.20" y="54.00" width="1.30" height="12.10" fill="#b8e3d3"/><rect x="207.50" y="54.00" width="2.50" height="12.10" fill="#3fa882"/><rect x="210.00" y="54.00" width="1.50" height="12.10" fill="#8fcfb5"/><rect x="212.50" y="54.00" width="1.80" height="12.10" fill="#8fcfb5"/><rect x="215.00" y="54.00" width="20.00" height="12.10" fill="#3fa882"/><rect x="235.90" y="54.00" width="5.10" height="12.10" fill="#3fa882"/><rect x="241.00" y="54.00" width="0.90" height="12.10" fill="#8fcfb5"/><rect x="241.90" y="54.00" width="12.50" height="12.10" fill="#3fa882"/><rect x="254.40" y="54.00" width="0.80" height="12.10" fill="#8fcfb5"/><rect x="255.20" y="54.00" width="2.60" height="12.10" fill="#3fa882"/><rect x="258.60" y="54.00" width="4.70" height="12.10" fill="#8fcfb5"/><rect x="259.50" y="54.00" width="1.00" height="12.10" fill="#3fa882"/><rect x="264.30" y="54.00" width="39.20" height="12.10" fill="#3fa882"/><rect x="303.50" y="54.00" width="2.00" height="12.10" fill="#8fcfb5"/><rect x="305.50" y="54.00" width="57.30" height="12.10" fill="#3fa882"/><rect x="370.80" y="54.00" width="244.80" height="12.10" fill="#3fa882"/><rect x="362.80" y="60.00" width="8.00" height="0.80" fill="#dddddd"/><rect x="615.60" y="60.00" width="132.40" height="0.90" fill="#dddddd"/><rect x="378.30" y="54.00" width="0.80" height="12.10" fill="#8fcfb5"/><rect x="380.40" y="54.00" width="0.80" height="12.10" fill="#8fcfb5"/><rect x="390.20" y="54.00" width="1.60" height="12.10" fill="#b8e3d3"/><rect x="393.80" y="54.00" width="0.60" height="12.10" fill="#eef9f4"/><rect x="409.00" y="54.00" width="1.60" height="12.10" fill="#8fcfb5"/><rect x="420.00" y="54.00" width="0.80" height="12.10" fill="#8fcfb5"/><rect x="421.80" y="54.00" width="1.40" height="12.10" fill="#b8e3d3"/><rect x="427.50" y="54.00" width="0.80" height="12.10" fill="#8fcfb5"/><rect x="430.60" y="54.00" width="0.80" height="12.10" fill="#8fcfb5"/><rect x="435.00" y="54.00" width="0.80" height="12.10" fill="#eef9f4"/><rect x="444.50" y="54.00" width="1.00" height="12.10" fill="#8fcfb5"/><rect x="446.20" y="54.00" width="0.80" height="12.10" fill="#8fcfb5"/><rect x="453.20" y="54.00" width="0.80" height="12.10" fill="#8fcfb5"/><rect x="465.90" y="54.00" width="2.00" height="12.10" fill="#8fcfb5"/><rect x="468.00" y="54.00" width="1.00" height="12.10" fill="#b8e3d3"/><rect x="470.00" y="54.00" width="0.80" height="12.10" fill="#eef9f4"/><rect x="471.00" y="54.00" width="2.50" height="12.10" fill="#8fcfb5"/><rect x="474.40" y="54.00" width="0.80" height="12.10" fill="#eef9f4"/><rect x="475.50" y="54.00" width="1.20" height="12.10" fill="#b8e3d3"/><rect x="477.00" y="54.00" width="0.80" height="12.10" fill="#eef9f4"/><rect x="480.10" y="54.00" width="0.80" height="12.10" fill="#eef9f4"/><rect x="490.30" y="54.00" width="1.60" height="12.10" fill="#8fcfb5"/><rect x="497.20" y="54.00" width="0.80" height="12.10" fill="#eef9f4"/><rect x="508.60" y="54.00" width="1.40" height="12.10" fill="#8fcfb5"/><rect x="509.70" y="54.00" width="0.60" height="12.10" fill="#eef9f4"/><rect x="512.00" y="54.00" width="1.20" height="12.10" fill="#8fcfb5"/><rect x="514.50" y="54.00" width="1.00" height="12.10" fill="#b8e3d3"/><rect x="517.00" y="54.00" width="1.20" height="12.10" fill="#8fcfb5"/><rect x="522.00" y="54.00" width="0.70" height="12.10" fill="#eef9f4"/><rect x="521.30" y="54.00" width="0.70" height="12.10" fill="#8fcfb5"/><rect x="523.30" y="54.00" width="0.70" height="12.10" fill="#8fcfb5"/><rect x="527.80" y="54.00" width="0.80" height="12.10" fill="#eef9f4"/><rect x="529.50" y="54.00" width="1.20" height="12.10" fill="#b8e3d3"/><rect x="532.00" y="54.00" width="1.00" height="12.10" fill="#8fcfb5"/><rect x="534.00" y="54.00" width="1.00" height="12.10" fill="#8fcfb5"/><rect x="543.00" y="54.00" width="1.50" height="12.10" fill="#8fcfb5"/><rect x="546.00" y="54.00" width="1.50" height="12.10" fill="#b8e3d3"/><rect x="549.00" y="54.00" width="1.30" height="12.10" fill="#8fcfb5"/><rect x="553.00" y="54.00" width="0.70" height="12.10" fill="#eef9f4"/><rect x="555.30" y="54.00" width="0.70" height="12.10" fill="#eef9f4"/><rect x="558.00" y="54.00" width="1.20" height="12.10" fill="#8fcfb5"/><rect x="560.50" y="54.00" width="1.50" height="12.10" fill="#b8e3d3"/><rect x="563.00" y="54.00" width="1.00" height="12.10" fill="#8fcfb5"/><rect x="565.00" y="54.00" width="1.20" height="12.10" fill="#8fcfb5"/><rect x="575.90" y="54.00" width="0.70" height="12.10" fill="#eef9f4"/><rect x="582.00" y="54.00" width="1.20" height="12.10" fill="#8fcfb5"/><rect x="585.00" y="54.00" width="1.00" height="12.10" fill="#8fcfb5"/><rect x="587.00" y="54.00" width="1.60" height="12.10" fill="#b8e3d3"/><rect x="589.00" y="54.00" width="0.70" height="12.10" fill="#eef9f4"/><rect x="168.00" y="76.80" width="447.50" height="12.00" fill="#d9d9d9"/><rect x="615.50" y="76.80" width="132.50" height="12.00" fill="#f3f3f3"/><rect x="615.50" y="82.40" width="132.50" height="0.80" fill="#e3e3e3"/><rect x="168.00" y="94.44" width="447.50" height="12.00" fill="#d9d9d9"/><rect x="615.50" y="94.44" width="132.50" height="12.00" fill="#f3f3f3"/><rect x="615.50" y="100.04" width="132.50" height="0.80" fill="#e3e3e3"/><rect x="168.00" y="112.08" width="447.50" height="12.00" fill="#d9d9d9"/><rect x="615.50" y="112.08" width="132.50" height="12.00" fill="#f3f3f3"/><rect x="615.50" y="117.68" width="132.50" height="0.80" fill="#e3e3e3"/><rect x="168.00" y="129.72" width="447.50" height="12.00" fill="#d9d9d9"/><rect x="615.50" y="129.72" width="132.50" height="12.00" fill="#f3f3f3"/><rect x="615.50" y="135.32" width="132.50" height="0.80" fill="#e3e3e3"/><rect x="168.00" y="147.36" width="447.50" height="12.00" fill="#d9d9d9"/><rect x="615.50" y="147.36" width="132.50" height="12.00" fill="#f3f3f3"/><rect x="615.50" y="152.96" width="132.50" height="0.80" fill="#e3e3e3"/><rect x="168.00" y="165.00" width="447.50" height="12.00" fill="#d9d9d9"/><rect x="615.50" y="165.00" width="132.50" height="12.00" fill="#f3f3f3"/><rect x="615.50" y="170.60" width="132.50" height="0.80" fill="#e3e3e3"/><rect x="168.00" y="182.64" width="447.50" height="12.00" fill="#d9d9d9"/><rect x="615.50" y="182.64" width="132.50" height="12.00" fill="#f3f3f3"/><rect x="615.50" y="188.24" width="132.50" height="0.80" fill="#e3e3e3"/><rect x="168.00" y="200.28" width="447.50" height="12.00" fill="#d9d9d9"/><rect x="615.50" y="200.28" width="132.50" height="12.00" fill="#f3f3f3"/><rect x="615.50" y="205.88" width="132.50" height="0.80" fill="#e3e3e3"/><rect x="168.00" y="76.80" width="2.20" height="12.00" fill="#4a4ae6"/><rect x="170.20" y="80.60" width="3.70" height="4.40" fill="#5cce2e"/><rect x="173.60" y="94.44" width="2.50" height="12.00" fill="#f03c3c"/><rect x="176.10" y="98.24" width="3.00" height="4.40" fill="#5cce2e"/><rect x="168.00" y="115.88" width="1.00" height="4.40" fill="#a8dc88"/><rect x="172.80" y="112.08" width="1.00" height="12.00" fill="#eaa2a2"/><rect x="176.40" y="112.08" width="1.00" height="12.00" fill="#eaa2a2"/><rect x="179.00" y="112.08" width="38.40" height="12.00" fill="#f03c3c"/><rect x="179.00" y="115.88" width="1.20" height="4.40" fill="#b0d040"/><rect x="217.40" y="115.88" width="3.00" height="4.40" fill="#7a8898"/><rect x="220.40" y="115.88" width="13.40" height="4.40" fill="#5cce2e"/><rect x="176.60" y="133.52" width="1.00" height="4.40" fill="#a8dc88"/><rect x="179.80" y="133.52" width="1.00" height="4.40" fill="#a8dc88"/><rect x="216.80" y="133.52" width="1.00" height="4.40" fill="#a8dc88"/><rect x="220.80" y="133.52" width="1.00" height="4.40" fill="#a8dc88"/><rect x="233.80" y="129.72" width="2.10" height="12.00" fill="#f03c3c"/><rect x="235.90" y="133.52" width="3.70" height="4.40" fill="#5cce2e"/><rect x="173.00" y="147.36" width="1.00" height="12.00" fill="#eaa2a2"/><rect x="176.40" y="147.36" width="1.00" height="12.00" fill="#eaa2a2"/><rect x="179.20" y="147.36" width="35.60" height="12.00" fill="#f03c3c"/><rect x="181.00" y="151.16" width="1.20" height="4.40" fill="#a8782a"/><rect x="217.00" y="147.36" width="1.00" height="12.00" fill="#a8a8e0"/><rect x="220.20" y="147.36" width="1.00" height="12.00" fill="#eaa2a2"/><rect x="221.50" y="151.16" width="1.50" height="4.40" fill="#5cce2e"/><rect x="239.40" y="147.36" width="2.90" height="12.00" fill="#f03c3c"/><rect x="242.30" y="151.16" width="10.60" height="4.40" fill="#5cce2e"/><rect x="169.50" y="168.80" width="2.00" height="4.40" fill="#a8dc88"/><rect x="173.60" y="168.80" width="1.00" height="4.40" fill="#a8dc88"/><rect x="177.00" y="165.00" width="1.00" height="12.00" fill="#eaa2a2"/><rect x="178.00" y="168.80" width="1.40" height="4.40" fill="#5cce2e"/><rect x="180.20" y="168.80" width="1.00" height="4.40" fill="#a8dc88"/><rect x="182.00" y="165.00" width="1.20" height="12.00" fill="#f03c3c"/><rect x="183.20" y="168.80" width="4.70" height="4.40" fill="#5cce2e"/><rect x="214.40" y="168.80" width="1.00" height="4.40" fill="#a8dc88"/><rect x="217.60" y="168.80" width="1.40" height="4.40" fill="#5cce2e"/><rect x="222.90" y="165.00" width="1.10" height="12.00" fill="#f03c3c"/><rect x="224.20" y="168.80" width="1.80" height="4.40" fill="#5cce2e"/><rect x="233.00" y="168.80" width="1.10" height="4.40" fill="#a8dc88"/><rect x="235.50" y="168.80" width="1.10" height="4.40" fill="#a8dc88"/><rect x="243.00" y="168.80" width="1.10" height="4.40" fill="#a8dc88"/><rect x="244.70" y="168.80" width="1.10" height="4.40" fill="#a8dc88"/><rect x="252.90" y="165.00" width="11.90" height="12.00" fill="#f03c3c"/><rect x="253.00" y="168.80" width="1.20" height="4.40" fill="#a0c040"/><rect x="264.80" y="165.00" width="0.80" height="12.00" fill="#a8a8e0"/><rect x="265.60" y="168.80" width="4.90" height="4.40" fill="#7a8898"/><rect x="270.50" y="168.80" width="1.10" height="4.40" fill="#f0b070"/><rect x="271.60" y="168.80" width="31.00" height="4.40" fill="#5cce2e"/><rect x="170.70" y="182.64" width="1.00" height="12.00" fill="#eaa2a2"/><rect x="187.40" y="182.64" width="1.00" height="12.00" fill="#eaa2a2"/><rect x="264.30" y="182.64" width="1.00" height="12.00" fill="#a8a8e0"/><rect x="269.10" y="182.64" width="1.20" height="12.00" fill="#e07070"/><rect x="271.60" y="186.44" width="0.80" height="4.40" fill="#a8dc88"/><rect x="302.00" y="182.64" width="2.00" height="12.00" fill="#9a5a9e"/><rect x="168.00" y="200.28" width="2.00" height="12.00" fill="#5a5ae0"/><rect x="187.40" y="204.08" width="1.00" height="4.40" fill="#a8dc88"/><rect x="239.10" y="200.28" width="1.10" height="12.00" fill="#7a7ae0"/><rect x="245.00" y="204.08" width="1.00" height="4.40" fill="#808080"/><rect x="254.50" y="200.28" width="1.20" height="12.00" fill="#6a6ae0"/><rect x="264.50" y="200.28" width="0.90" height="12.00" fill="#eaa2a2"/><rect x="269.00" y="204.08" width="1.00" height="4.40" fill="#a8dc88"/><rect x="272.00" y="200.28" width="1.20" height="12.00" fill="#5a5ae0"/><rect x="303.40" y="200.28" width="2.20" height="12.00" fill="#2a2ad8"/><rect x="183.50" y="112.08" width="0.60" height="12.00" fill="#ffffff" fill-opacity="0.12"/><rect x="188.70" y="112.08" width="0.60" height="12.00" fill="#ffffff" fill-opacity="0.12"/><rect x="193.90" y="112.08" width="0.60" height="12.00" fill="#ffffff" fill-opacity="0.12"/><rect x="199.10" y="112.08" width="0.60" height="12.00" fill="#ffffff" fill-opacity="0.12"/><rect x="204.30" y="112.08" width="0.60" height="12.00" fill="#ffffff" fill-opacity="0.12"/><rect x="209.50" y="112.08" width="0.60" height="12.00" fill="#ffffff" fill-opacity="0.12"/><rect x="214.70" y="112.08" width="0.60" height="12.00" fill="#ffffff" fill-opacity="0.12"/><rect x="183.70" y="147.36" width="0.60" height="12.00" fill="#ffffff" fill-opacity="0.12"/><rect x="188.90" y="147.36" width="0.60" height="12.00" fill="#ffffff" fill-opacity="0.12"/><rect x="194.10" y="147.36" width="0.60" height="12.00" fill="#ffffff" fill-opacity="0.12"/><rect x="199.30" y="147.36" width="0.60" height="12.00" fill="#ffffff" fill-opacity="0.12"/><rect x="204.50" y="147.36" width="0.60" height="12.00" fill="#ffffff" fill-opacity="0.12"/><rect x="209.70" y="147.36" width="0.60" height="12.00" fill="#ffffff" fill-opacity="0.12"/><rect x="257.40" y="165.00" width="0.60" height="12.00" fill="#ffffff" fill-opacity="0.12"/><rect x="262.60" y="165.00" width="0.60" height="12.00" fill="#ffffff" fill-opacity="0.12"/><rect x="112.40" y="222.80" width="3.20" height="10.80" fill="#d5d5d5"/><rect x="112.40" y="226.60" width="3.20" height="3.40" fill="#a8782a"/><rect x="244.00" y="222.80" width="3.20" height="10.80" fill="#d5d5d5"/><rect x="244.00" y="226.60" width="3.20" height="3.40" fill="#5cce2e"/><rect x="381.10" y="222.80" width="3.20" height="10.80" fill="#d5d5d5"/><rect x="381.10" y="226.60" width="3.20" height="3.40" fill="#f0b070"/><rect x="508.50" y="222.80" width="3.20" height="10.80" fill="#d5d5d5"/><rect x="508.50" y="226.60" width="3.20" height="3.40" fill="#566880"/><rect x="112.40" y="238.90" width="3.20" height="10.80" fill="#ff0000"/><rect x="232.40" y="238.90" width="3.20" height="10.80" fill="#0000ff"/><rect x="356.60" y="238.90" width="3.20" height="10.80" fill="#d0d0d0"/><rect x="414.00" y="244.10" width="2.20" height="0.70" fill="#d8d8d8"/><polygon points="115,415.3 136.9,415.3 136.9,404.2" fill="#0e820e"/><rect x="112.50" y="431.10" width="3.20" height="10.80" fill="#23966c"/><rect x="140.00" y="436.40" width="2.20" height="0.70" fill="#d8d8d8"/><rect x="112.50" y="462.20" width="3.20" height="10.80" fill="#23966c"/><rect x="140.00" y="467.40" width="2.20" height="0.70" fill="#d8d8d8"/>
</svg>
<div class="t" style="left:1.00px;top:3.75px;font-size:7.5px;font-weight:700;line-height:7.5px;color:#000;-webkit-text-stroke:0.15px #000;">Study of origin</div><div class="t" style="left:0.00px;top:20.75px;font-size:7.5px;font-weight:700;line-height:7.5px;color:#000;-webkit-text-stroke:0.15px #000;"># Samples per Patient</div><div class="t" style="left:1.00px;top:38.55px;font-size:7.5px;font-weight:700;line-height:7.5px;color:#000;-webkit-text-stroke:0.15px #000;">Profiled for copy number alterations</div><div class="t" style="left:1.00px;top:56.95px;font-size:7.5px;font-weight:700;line-height:7.5px;color:#000;-webkit-text-stroke:0.15px #000;">Profiled for mutations</div><div class="t" style="left:1.00px;top:79.75px;font-size:7.5px;font-weight:700;line-height:7.5px;color:#000;-webkit-text-stroke:0.15px #000;">FAM111B</div><div class="t" style="left:145.90px;top:80.98px;font-size:6.4px;font-weight:700;line-height:6.4px;color:#000;transform:scaleY(1.18);transform-origin:0 84.65%;-webkit-text-stroke:0.15px #000;">1.2%*</div><div class="t" style="left:1.00px;top:97.39px;font-size:7.5px;font-weight:700;line-height:7.5px;color:#000;-webkit-text-stroke:0.15px #000;">GDF15</div><div class="t" style="left:145.90px;top:98.62px;font-size:6.4px;font-weight:700;line-height:6.4px;color:#000;transform:scaleY(1.18);transform-origin:0 84.65%;-webkit-text-stroke:0.15px #000;">1.2%*</div><div class="t" style="left:1.00px;top:115.03px;font-size:7.5px;font-weight:700;line-height:7.5px;color:#000;-webkit-text-stroke:0.15px #000;">IGSF10</div><div class="t" style="left:145.90px;top:116.26px;font-size:6.4px;font-weight:700;line-height:6.4px;color:#000;transform:scaleY(1.18);transform-origin:0 84.65%;-webkit-text-stroke:0.15px #000;">12%*</div><div class="t" style="left:1.00px;top:132.67px;font-size:7.5px;font-weight:700;line-height:7.5px;color:#000;-webkit-text-stroke:0.15px #000;">KRT6A</div><div class="t" style="left:145.90px;top:133.90px;font-size:6.4px;font-weight:700;line-height:6.4px;color:#000;transform:scaleY(1.18);transform-origin:0 84.65%;-webkit-text-stroke:0.15px #000;">1.9%*</div><div class="t" style="left:1.00px;top:150.31px;font-size:7.5px;font-weight:700;line-height:7.5px;color:#000;-webkit-text-stroke:0.15px #000;">MME</div><div class="t" style="left:145.90px;top:151.54px;font-size:6.4px;font-weight:700;line-height:6.4px;color:#000;transform:scaleY(1.18);transform-origin:0 84.65%;-webkit-text-stroke:0.15px #000;">12%*</div><div class="t" style="left:1.00px;top:167.95px;font-size:7.5px;font-weight:700;line-height:7.5px;color:#000;-webkit-text-stroke:0.15px #000;">PKHD1L1</div><div class="t" style="left:145.90px;top:169.18px;font-size:6.4px;font-weight:700;line-height:6.4px;color:#000;transform:scaleY(1.18);transform-origin:0 84.65%;-webkit-text-stroke:0.15px #000;">15%*</div><div class="t" style="left:1.00px;top:185.59px;font-size:7.5px;font-weight:700;line-height:7.5px;color:#000;-webkit-text-stroke:0.15px #000;">RPRM</div><div class="t" style="left:145.90px;top:186.82px;font-size:6.4px;font-weight:700;line-height:6.4px;color:#000;transform:scaleY(1.18);transform-origin:0 84.65%;-webkit-text-stroke:0.15px #000;">0.7%*</div><div class="t" style="left:1.00px;top:203.23px;font-size:7.5px;font-weight:700;line-height:7.5px;color:#000;-webkit-text-stroke:0.15px #000;">SGCG</div><div class="t" style="left:145.90px;top:204.46px;font-size:6.4px;font-weight:700;line-height:6.4px;color:#000;transform:scaleY(1.18);transform-origin:0 84.65%;-webkit-text-stroke:0.15px #000;">1.6%*</div><div class="t" style="left:1.00px;top:224.87px;font-size:6.3px;font-weight:700;line-height:6.3px;color:#000;-webkit-text-stroke:0.15px #000;">Genetic Alteration</div><div class="t" style="left:118.70px;top:226.08px;font-size:6.28px;font-weight:400;line-height:6.28px;color:#000;transform:scaleY(1.1);transform-origin:0 84.65%;-webkit-text-stroke:0.1px #000;">Inframe Mutation (unknown significance)</div><div class="t" style="left:250.10px;top:226.08px;font-size:6.28px;font-weight:400;line-height:6.28px;color:#000;transform:scaleY(1.1);transform-origin:0 84.65%;-webkit-text-stroke:0.1px #000;">Missense Mutation (unknown significance)</div><div class="t" style="left:387.00px;top:226.08px;font-size:6.28px;font-weight:400;line-height:6.28px;color:#000;transform:scaleY(1.1);transform-origin:0 84.65%;-webkit-text-stroke:0.1px #000;">Splice Mutation (unknown significance)</div><div class="t" style="left:514.30px;top:226.08px;font-size:6.28px;font-weight:400;line-height:6.28px;color:#000;transform:scaleY(1.1);transform-origin:0 84.65%;-webkit-text-stroke:0.1px #000;">Truncating Mutation (unknown significance)</div><div class="t" style="left:118.70px;top:241.88px;font-size:6.28px;font-weight:400;line-height:6.28px;color:#000;transform:scaleY(1.1);transform-origin:0 84.65%;-webkit-text-stroke:0.1px #000;">Amplification (unknown significance)</div><div class="t" style="left:238.70px;top:241.88px;font-size:6.28px;font-weight:400;line-height:6.28px;color:#000;transform:scaleY(1.1);transform-origin:0 84.65%;-webkit-text-stroke:0.1px #000;">Deep Deletion (unknown significance)</div><div class="t" style="left:362.50px;top:241.88px;font-size:6.28px;font-weight:400;line-height:6.28px;color:#000;transform:scaleY(1.1);transform-origin:0 84.65%;-webkit-text-stroke:0.1px #000;">No alterations</div><div class="t" style="left:418.80px;top:241.88px;font-size:6.28px;font-weight:400;line-height:6.28px;color:#000;transform:scaleY(1.1);transform-origin:0 84.65%;-webkit-text-stroke:0.1px #000;">Not profiled</div><div class="t" style="left:1.00px;top:266.77px;font-size:6.3px;font-weight:700;line-height:6.3px;color:#000;-webkit-text-stroke:0.15px #000;">Study of origin</div><div class="t" style="left:0.60px;top:405.54px;font-size:6.45px;font-weight:700;line-height:6.45px;color:#000;-webkit-text-stroke:0.15px #000;"># Samples per Patient</div><div class="t" style="left:112.40px;top:405.54px;font-size:6.8px;font-weight:400;line-height:6.8px;color:#000;transform:scaleY(1.1);transform-origin:0 84.65%;-webkit-text-stroke:0.1px #000;">0</div><div class="t" style="left:138.80px;top:405.54px;font-size:6.8px;font-weight:400;line-height:6.8px;color:#000;transform:scaleY(1.1);transform-origin:0 84.65%;-webkit-text-stroke:0.1px #000;">9</div><div class="t" style="left:0.60px;top:432.64px;font-size:6.45px;font-weight:700;line-height:6.45px;color:#000;-webkit-text-stroke:0.15px #000;">Profiled for copy number</div><div class="t" style="left:0.60px;top:439.94px;font-size:6.45px;font-weight:700;line-height:6.45px;color:#000;-webkit-text-stroke:0.15px #000;">alterations</div><div class="t" style="left:118.70px;top:434.62px;font-size:6.35px;font-weight:400;line-height:6.35px;color:#000;transform:scaleY(1.1);transform-origin:0 84.65%;-webkit-text-stroke:0.1px #000;">Yes</div><div class="t" style="left:145.50px;top:434.62px;font-size:6.35px;font-weight:400;line-height:6.35px;color:#000;transform:scaleY(1.1);transform-origin:0 84.65%;-webkit-text-stroke:0.1px #000;">No</div><div class="t" style="left:0.60px;top:463.54px;font-size:6.45px;font-weight:700;line-height:6.45px;color:#000;-webkit-text-stroke:0.15px #000;">Profiled for mutations</div><div class="t" style="left:118.70px;top:465.12px;font-size:6.35px;font-weight:400;line-height:6.35px;color:#000;transform:scaleY(1.1);transform-origin:0 84.65%;-webkit-text-stroke:0.1px #000;">Yes</div><div class="t" style="left:145.50px;top:465.12px;font-size:6.35px;font-weight:400;line-height:6.35px;color:#000;transform:scaleY(1.1);transform-origin:0 84.65%;-webkit-text-stroke:0.1px #000;">No</div>
<div class="lrow" style="top:266.50px"><span class="li"><i style="background:#3366cc"></i><b class="tx">Lung Adenocarcinoma (Broad, Cell 2012)</b></span><span class="li"><i style="background:#dc3912"></i><b class="tx">Lung Adenocarcinoma (MSKCC, Science 2015)</b></span><span class="li"><i style="background:#ff9900"></i><b class="tx">Lung Adenocarcinoma (OncoSG, Nat Genet 2020)</b></span></div><div class="lrow" style="top:282.50px"><span class="li"><i style="background:#109618"></i><b class="tx">Lung Adenocarcinoma (TCGA, Firehose Legacy)</b></span><span class="li"><i style="background:#0099c6"></i><b class="tx">Lung Adenocarcinoma (TCGA, Nature 2014)</b></span><span class="li"><i style="background:#990099"></i><b class="tx">Lung Adenocarcinoma (TCGA, PanCancer Atlas)</b></span></div><div class="lrow" style="top:298.50px"><span class="li"><i style="background:#dd4477"></i><b class="tx">Lung Adenocarcinoma (TSP, Nature 2008)</b></span><span class="li"><i style="background:#316395"></i><b class="tx">Lung Cancer (SMC, Cancer Research 2016)</b></span><span class="li"><i style="background:#994499"></i><b class="tx">Lung Squamous Cell Carcinoma (TCGA, Firehose Legacy)</b></span></div><div class="lrow" style="top:314.50px"><span class="li"><i style="background:#aaaa11"></i><b class="tx">Lung Squamous Cell Carcinoma (TCGA, Nature 2012)</b></span><span class="li"><i style="background:#22aa99"></i><b class="tx">Lung Squamous Cell Carcinoma (TCGA, PanCancer Atlas)</b></span><span class="li"><i style="background:#66aa00"></i><b class="tx">Non-Small Cell Cancer (MSKCC, Cancer Discov 2017)</b></span></div><div class="lrow" style="top:330.50px"><span class="li"><i style="background:#e67300"></i><b class="tx">Non-Small Cell Lung Cancer (MSK, Cancer Cell 2018)</b></span><span class="li"><i style="background:#6633cc"></i><b class="tx">Non-small cell lung cancer (MSK, Science 2015)</b></span><span class="li"><i style="background:#8b0707"></i><b class="tx">Non-Small Cell Lung Cancer (MSKCC, J Clin Oncol 2018)</b></span></div><div class="lrow" style="top:346.50px"><span class="li"><i style="background:#329262"></i><b class="tx">Non-Small Cell Lung Cancer (TRACERx, NEJM &amp; Nature 2017)</b></span><span class="li"><i style="background:#5574a6"></i><b class="tx">Non-Small Cell Lung Cancer (University of Turin, Lung Cancer 2017)</b></span><span class="li"><i style="background:#651067"></i><b class="tx">Pan-Lung Cancer (TCGA, Nat Genet 2016)</b></span></div><div class="lrow" style="top:362.50px"><span class="li"><i style="background:#b77322"></i><b class="tx">Small Cell Lung Cancer (CLCGP, Nat Genet 2012)</b></span><span class="li"><i style="background:#16d620"></i><b class="tx">Small Cell Lung Cancer (Johns Hopkins, Nat Genet 2012)</b></span><span class="li"><i style="background:#b91383"></i><b class="tx">Small Cell Lung Cancer (U Cologne, Nature 2015)</b></span></div><div class="lrow" style="top:378.50px"><span class="li"><i style="background:#3b3eac"></i><b class="tx">Small-Cell Lung Cancer (Multi-Institute, Cancer Cell 2017)</b></span><span class="li"><i style="background:#b82e2e"></i><b class="tx">Thoracic PDX (MSK, Provisional)</b></span></div>
</div></body></html>
